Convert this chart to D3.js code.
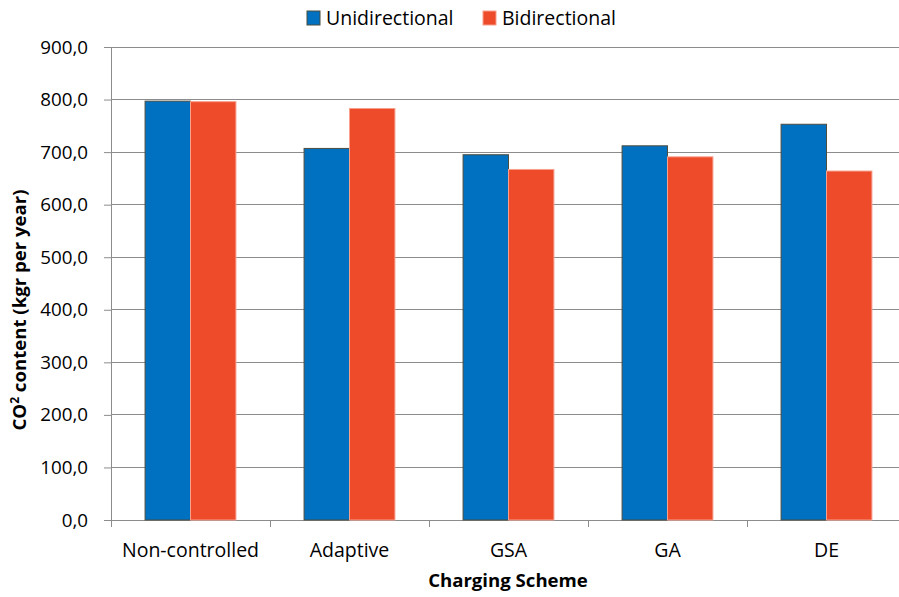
<!DOCTYPE html>
<html><head><meta charset="utf-8">
<script src="https://cdn.jsdelivr.net/npm/d3@7"></script>
<style>body{margin:0;background:#fff}text{font-family:"Open Sans",sans-serif;fill:#000}</style>
</head><body><svg id="c" width="899" height="597"></svg>
<script>
const categories = ["Non-controlled","Adaptive","GSA","GA","DE"];
const seriesNames = ["Unidirectional","Bidirectional"];
const unidirectional = [797, 707, 695, 712, 753];
const bidirectional = [796, 783, 667, 691, 664];
const yTicks = [0,100,200,300,400,500,600,700,800,900];
const colors = ["#0070C0","#EE4B2B"];
const strokes = ["#4d4d40","#f7a08c"];

const svg = d3.select("#c");
const m = {l:111, r:906, t:47, b:520};
const x = d3.scaleBand().domain(categories).range([m.l, m.r]).paddingInner(0).paddingOuter(0);
const xs = d3.scaleBand().domain(seriesNames).range([0, x.bandwidth()]).paddingInner(0).paddingOuter(0.75);
const y = d3.scaleLinear().domain([0,900]).range([m.b, m.t]);
const fmt = v => d3.format(".1f")(v).replace(".", ",");

// gridlines
svg.append("g").selectAll("line").data(yTicks.filter(d=>d>0)).join("line")
  .attr("x1", m.l).attr("x2", m.r).attr("y1", d=>y(d)).attr("y2", d=>y(d))
  .attr("stroke", "#8c8c8c").attr("stroke-width", 1).attr("shape-rendering","crispEdges");

// y axis
const ya = svg.append("g").attr("transform", `translate(${m.l},0)`)
  .call(d3.axisLeft(y).tickValues(yTicks).tickFormat(fmt).tickSize(7).tickSizeOuter(0).tickPadding(16));
ya.select(".domain").attr("stroke","#8c8c8c");
ya.selectAll(".tick line").attr("stroke","#8c8c8c");
ya.selectAll("text").attr("font-size", 18.8).style("font-family","'Open Sans',sans-serif").attr("fill","#000");

// x axis
const xa = svg.append("g").attr("transform", `translate(0,${m.b})`)
  .call(d3.axisBottom(x).tickSize(0).tickPadding(23.5));
xa.select(".domain").attr("stroke","#8c8c8c");
xa.selectAll("text").attr("font-size", 19.5).style("font-family","'Open Sans',sans-serif").attr("fill","#000");
// category boundary ticks
svg.append("g").selectAll("line").data(categories.concat(["_end"])).join("line")
  .attr("x1", (d,i)=> m.l + i*x.step()).attr("x2",(d,i)=> m.l + i*x.step())
  .attr("y1", m.b).attr("y2", m.b+7).attr("stroke","#8c8c8c").attr("shape-rendering","crispEdges");

// bars
const data = categories.map((c,i)=>({c, vals:[unidirectional[i], bidirectional[i]]}));
const g = svg.append("g").selectAll("g").data(data).join("g").attr("transform", d=>`translate(${x(d.c)},0)`);
g.selectAll("rect").data(d=>d.vals.map((v,j)=>({v, s:seriesNames[j], j}))).join("rect")
  .attr("x", d=>xs(d.s)).attr("width", xs.bandwidth())
  .attr("y", d=>y(d.v)).attr("height", d=>y(0)-y(d.v))
  .attr("fill", d=>colors[d.j]).attr("stroke", d=>strokes[d.j]).attr("stroke-width",1);

// legend
const legX = [307, 483];
seriesNames.forEach((s,i)=>{
  svg.append("rect").attr("x", legX[i]).attr("y", 11).attr("width", 13).attr("height", 14)
    .attr("fill", colors[i]).attr("stroke", strokes[i]);
  svg.append("text").attr("x", legX[i]+19).attr("y", 25).attr("font-size", 19.5).text(s);
});

// axis titles
svg.append("text").attr("x", 508).attr("y", 587).attr("text-anchor","middle")
  .attr("font-size", 18.6).attr("font-weight","bold").text("Charging Scheme");
const yt = svg.append("text").attr("transform","translate(26,310) rotate(-90)").attr("text-anchor","middle")
  .attr("font-size", 18.6).attr("font-weight","bold");
yt.append("tspan").text("CO");
yt.append("tspan").attr("font-size", 12).attr("dy", -7).text("2");
yt.append("tspan").attr("dy", 7).text(" content (kgr per year)");
</script></body></html>
